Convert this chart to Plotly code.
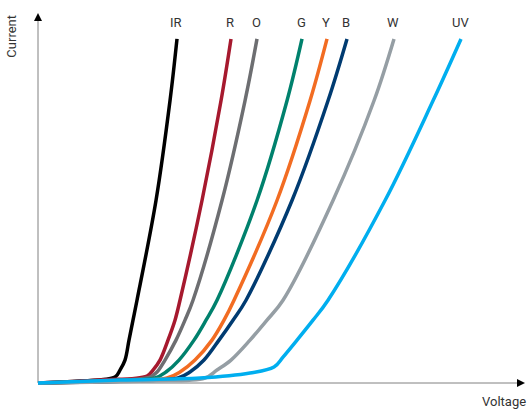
import plotly.graph_objects as go

# LED I-V curves (arbitrary units: volts, mA)
names = ["IR", "R", "O", "G", "Y", "B", "W", "UV"]
colors = ["#000000", "#a6192e", "#6d6e71", "#00816d", "#f26c22", "#003b71", "#959ea4", "#00aeef"]

v_ir = [0, 0.42, 0.77, 0.82, 0.87, 0.91, 0.95, 0.99, 1.18, 1.32, 1.39]
i_ir = [0, 0.2, 0.6, 1.3, 2.3, 4.3, 6.3, 8.3, 18.3, 28.3, 34.5]

v_r = [0, 0.62, 1.09, 1.15, 1.22, 1.30, 1.37, 1.42, 1.64, 1.83, 1.93]
i_r = [0, 0.3, 0.7, 1.3, 2.3, 4.3, 6.3, 8.3, 18.3, 28.3, 34.5]

v_o = [0, 0.60, 1.12, 1.19, 1.27, 1.38, 1.47, 1.55, 1.84, 2.07, 2.19]
i_o = [0, 0.2, 0.6, 1.1, 2.3, 4.3, 6.3, 8.3, 18.3, 28.3, 34.5]

v_g = [0, 0.70, 1.17, 1.28, 1.41, 1.56, 1.68, 1.79, 2.19, 2.49, 2.64]
i_g = [0, 0.2, 0.5, 1.1, 2.3, 4.3, 6.3, 8.3, 18.3, 28.3, 34.5]

v_y = [0, 0.80, 1.29, 1.42, 1.57, 1.74, 1.86, 1.96, 2.39, 2.72, 2.89]
i_y = [0, 0.2, 0.5, 1.1, 2.3, 4.3, 6.3, 8.3, 18.3, 28.3, 34.5]

v_b = [0, 0.90, 1.40, 1.52, 1.66, 1.81, 1.95, 2.08, 2.54, 2.90, 3.09]
i_b = [0, 0.2, 0.5, 1.1, 2.3, 4.3, 6.3, 8.3, 18.3, 28.3, 34.5]

v_w = [0, 1.10, 1.67, 1.79, 1.93, 2.12, 2.29, 2.45, 2.95, 3.36, 3.56]
i_w = [0, 0.2, 0.5, 1.3, 2.3, 4.3, 6.3, 8.3, 18.3, 28.3, 34.5]

v_uv = [0, 0.82, 1.62, 2.12, 2.36, 2.45, 2.59, 2.75, 2.90, 3.47, 3.95, 4.23]
i_uv = [0, 0.3, 0.5, 1.0, 1.6, 2.6, 4.3, 6.3, 8.3, 18.3, 28.3, 34.5]

voltages = [v_ir, v_r, v_o, v_g, v_y, v_b, v_w, v_uv]
currents = [i_ir, i_r, i_o, i_g, i_y, i_b, i_w, i_uv]

x_label = "Voltage"
y_label = "Current"

FONT = "Roboto, Liberation Sans Narrow, sans-serif"

X_MAX = 4.87
Y_MAX = 37.1

fig = go.Figure()

# axis lines
fig.add_shape(type="line", x0=0, y0=0, x1=X_MAX - 0.05, y1=0, xref="x", yref="y",
              line=dict(color="#808080", width=1), layer="below")
fig.add_shape(type="line", x0=0, y0=0, x1=0, y1=Y_MAX - 0.5, xref="x", yref="y",
              line=dict(color="#808080", width=1), layer="below")

for n, c, vx, iy in zip(names, colors, voltages, currents):
    fig.add_trace(go.Scatter(x=vx, y=iy, mode="lines", name=n,
                             line=dict(color=c, width=3.5, shape="spline", smoothing=1.0, simplify=False),
                             hoverinfo="skip", showlegend=False))
    fig.add_annotation(x=vx[-1], y=iy[-1], xref="x", yref="y", text=n, showarrow=False,
                       yshift=16, xshift=-1, font=dict(family=FONT, size=13, color="#333333"))

# arrow heads
fig.add_annotation(x=X_MAX, y=0, xref="x", yref="y", ax=-6, ay=0, axref="pixel", ayref="pixel",
                   showarrow=True, arrowhead=2, arrowsize=1.6, arrowwidth=1, arrowcolor="#000000", text="")
fig.add_annotation(x=0, y=Y_MAX, xref="x", yref="y", ax=0, ay=6, axref="pixel", ayref="pixel",
                   showarrow=True, arrowhead=2, arrowsize=1.6, arrowwidth=1, arrowcolor="#000000", text="")

# axis titles
fig.add_annotation(x=1, y=-0.037, xref="paper", yref="paper", text=x_label, showarrow=False,
                   xanchor="right", yanchor="middle", font=dict(family=FONT, size=13, color="#333333"))
fig.add_annotation(x=-0.025, y=1, xref="paper", yref="paper", text=y_label, showarrow=False,
                   textangle=-90, xanchor="right", yanchor="top", font=dict(family=FONT, size=13, color="#333333"))

fig.update_layout(
    width=531, height=410,
    margin=dict(l=33, r=3, t=13, b=22),
    plot_bgcolor="white", paper_bgcolor="white",
    xaxis=dict(range=[-0.05, 4.9], visible=False, fixedrange=True),
    yaxis=dict(range=[-0.5, Y_MAX], visible=False, fixedrange=True),
)

fig.write_html("out.html", config={"displayModeBar": False},
               post_script="document.body.style.margin='0';document.body.style.overflow='hidden';")
